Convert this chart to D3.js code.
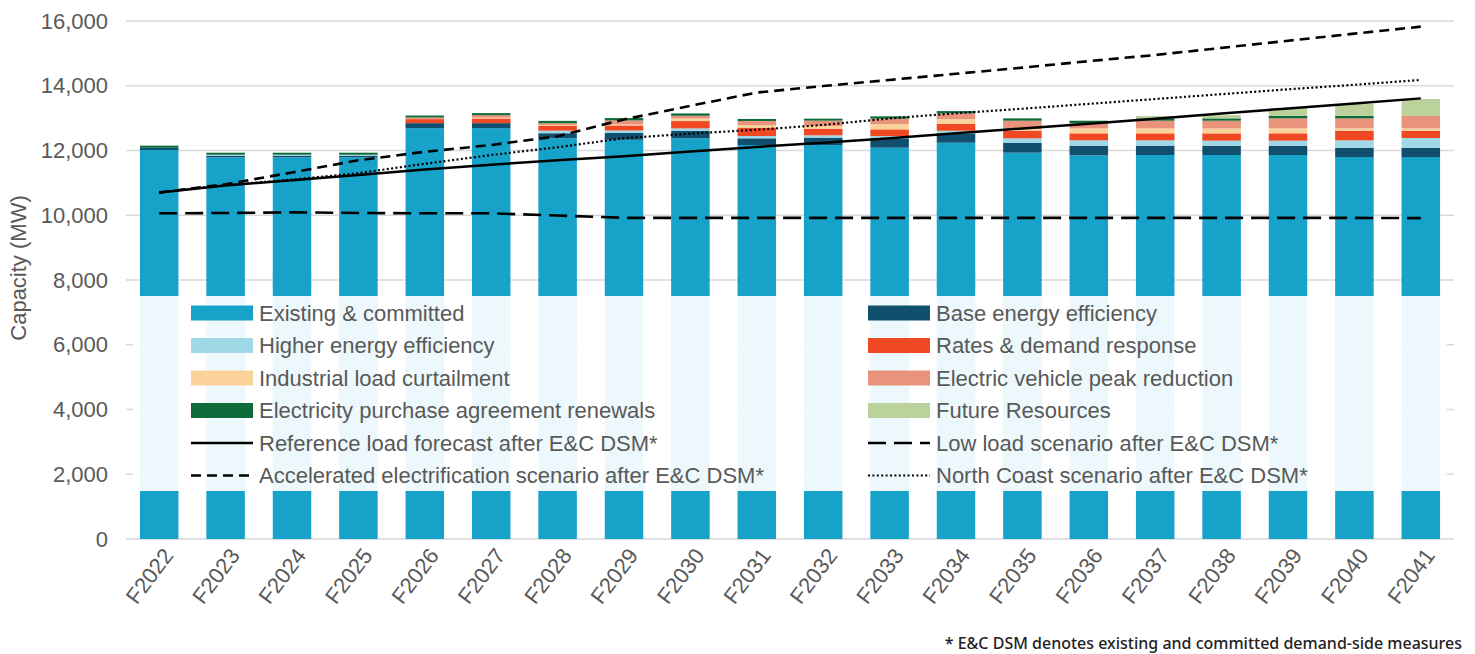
<!DOCTYPE html>
<html>
<head>
<meta charset="utf-8">
<script src="https://cdn.jsdelivr.net/npm/d3@7"></script>
<style>
  html, body { margin: 0; padding: 0; background: #fff; }
  svg { display: block; }
</style>
</head>
<body>
<svg id="chart" width="1475" height="654"></svg>
<script>
const years = ["F2022","F2023","F2024","F2025","F2026","F2027","F2028","F2029","F2030","F2031",
               "F2032","F2033","F2034","F2035","F2036","F2037","F2038","F2039","F2040","F2041"];

const existing   = [12015,11790,11790,11790,12690,12690,12380,12330,12376,12170,12170,12087,12241,11933,11850,11861,11861,11861,11799,11799];
const baseEE     = [70,50,50,50,155,155,154,210,235,206,227,288,288,299,299,288,288,288,288,288];
const higherEE   = [0,30,30,30,0,0,80,80,72,72,72,72,82,144,165,165,154,154,226,299];
const rates      = [0,0,0,0,124,144,154,154,226,257,206,206,216,237,216,216,226,228,299,226];
const industrial = [0,0,0,0,0,25,20,30,82,77,82,165,144,51,154,154,154,154,72,72];
const evPeak     = [0,0,0,0,50,78,55,125,82,130,165,165,175,257,154,237,237,309,309,381];
const epa        = [65,62,62,62,62,62,72,72,72,62,62,72,72,72,82,72,72,72,72,0];
const future     = [0,0,0,0,0,0,0,0,0,0,0,0,0,0,0,72,100,237,371,525];

const refLoad    = [10700,10920,11080,11240,11410,11560,11700,11820,11970,12110,12240,12380,12530,12680,12830,12980,13140,13300,13450,13610];
const lowLoad    = [10060,10070,10090,10070,10060,10060,9990,9920,9920,9920,9920,9920,9920,9920,9920,9920,9920,9920,9920,9910];
const accel      = [10700,10960,11320,11700,11960,12170,12440,12960,13380,13790,13990,14180,14370,14560,14760,14950,15170,15390,15610,15825];
const northCoast = [10700,10930,11100,11300,11590,11860,12100,12380,12520,12640,12790,12990,13150,13290,13440,13590,13740,13890,14030,14180];

const yTicks = [0,2000,4000,6000,8000,10000,12000,14000,16000];

const seriesNames = ["Existing & committed","Base energy efficiency","Higher energy efficiency","Rates & demand response",
  "Industrial load curtailment","Electric vehicle peak reduction","Electricity purchase agreement renewals","Future Resources"];
const seriesKeys = ["existing","baseEE","higherEE","rates","industrial","evPeak","epa","future"];
const seriesColors = ["#17a2c9","#104f6e","#9fd8e6","#ef4823","#fad29a","#e9937c","#0e6b3a","#bbd29d"];
const seriesData = [existing,baseEE,higherEE,rates,industrial,evPeak,epa,future];

const lineNames = ["Reference load forecast after E&C DSM*","Low load scenario after E&C DSM*",
  "Accelerated electrification scenario after E&C DSM*","North Coast scenario after E&C DSM*"];
const lineData = [refLoad,lowLoad,accel,northCoast];
const lineDash = [null,"18,8","10,6","2,2.4"];
const lineWidth = [2.5,2.6,2.6,2.2];

const svg = d3.select("#chart");
const textColor = "#595959";
const font = "'Liberation Sans', Arial, sans-serif";
const fs = 22;

const x = d3.scaleBand().domain(years).range([126,1454]).paddingInner(0.42).paddingOuter(0.21);
const y = d3.scaleLinear().domain([0,16000]).range([539,21]);

// gridlines
svg.append("g").selectAll("line").data(yTicks).join("line")
  .attr("x1",126).attr("x2",1454)
  .attr("y1",d=>y(d)).attr("y2",d=>y(d))
  .attr("stroke","#d9d9d9").attr("stroke-width",1.4);

// y axis labels
const yAxis = d3.axisLeft(y).tickValues(yTicks).tickFormat(d3.format(",")).tickSize(0).tickPadding(0);
const gy = svg.append("g").attr("transform","translate(108,0)").call(yAxis);
gy.select(".domain").remove();
gy.selectAll("text").attr("font-family",font).attr("font-size",fs).attr("fill",textColor);

// y title
svg.append("text").attr("transform","translate(26,268) rotate(-90)")
  .attr("text-anchor","middle").attr("font-family",font).attr("font-size",fs).attr("fill",textColor)
  .text("Capacity (MW)");

// stacked bars
const table = years.map((yr,i)=>{ const o={year:yr}; seriesKeys.forEach((k,j)=>o[k]=seriesData[j][i]); return o; });
const stack = d3.stack().keys(seriesKeys)(table);
svg.append("g").selectAll("g").data(stack).join("g")
  .attr("fill",(d,i)=>seriesColors[i])
  .selectAll("rect").data(d=>d).join("rect")
  .attr("x",d=>x(d.data.year)).attr("width",x.bandwidth())
  .attr("y",d=>y(d[1])).attr("height",d=>Math.max(0,y(d[0])-y(d[1])));

// x axis labels
const xAxis = d3.axisBottom(x).tickSize(0).tickPadding(0);
const gx = svg.append("g").attr("transform","translate(0,539)").call(xAxis);
gx.select(".domain").remove();
gx.selectAll("text").attr("font-family",font).attr("font-size",fs).attr("fill",textColor)
  .attr("text-anchor","end").attr("dy","0.35em")
  .attr("transform","translate(9,12) rotate(-53)").attr("y",0).attr("x",0);

// legend background
svg.append("rect").attr("x",133).attr("y",296).attr("width",1314).attr("height",195)
  .attr("fill","#fff").attr("fill-opacity",0.92);

const legendItems = [];
seriesNames.forEach((n,i)=>legendItems.push({name:n,type:"rect",color:seriesColors[i]}));
lineNames.forEach((n,i)=>legendItems.push({name:n,type:"line",dash:lineDash[i],w:lineWidth[i]}));

const lg = svg.append("g");
legendItems.forEach((it,i)=>{
  const col = i%2, row = Math.floor(i/2);
  const sx = col===0 ? 191 : 868;
  const cy = 313 + row*32.5;
  const g = lg.append("g");
  if(it.type==="rect"){
    g.append("rect").attr("x",sx).attr("y",cy-7.5).attr("width",62).attr("height",15).attr("fill",it.color);
  } else {
    g.append("line").attr("x1",sx).attr("x2",sx+62).attr("y1",cy).attr("y2",cy)
      .attr("stroke","#000").attr("stroke-width",it.w).attr("stroke-dasharray",it.dash);
  }
  g.append("text").attr("x",sx+68).attr("y",cy).attr("dy","0.35em")
    .attr("font-family",font).attr("font-size",fs).attr("fill",textColor).text(it.name);
});

// lines
const line = d3.line().x((d,i)=>x(years[i])+x.bandwidth()/2).y(d=>y(d));
lineData.forEach((arr,i)=>{
  svg.append("path").datum(arr).attr("d",line).attr("fill","none")
    .attr("stroke","#000").attr("stroke-width",lineWidth[i])
    .attr("stroke-dasharray",lineDash[i]);
});

// footnote
svg.append("text").attr("x",1462).attr("y",649).attr("text-anchor","end")
  .attr("font-family","'Noto Sans', sans-serif").attr("font-size",16).attr("font-weight",500).attr("fill","#222")
  .text("* E&C DSM denotes existing and committed demand-side measures");
</script>
</body>
</html>
